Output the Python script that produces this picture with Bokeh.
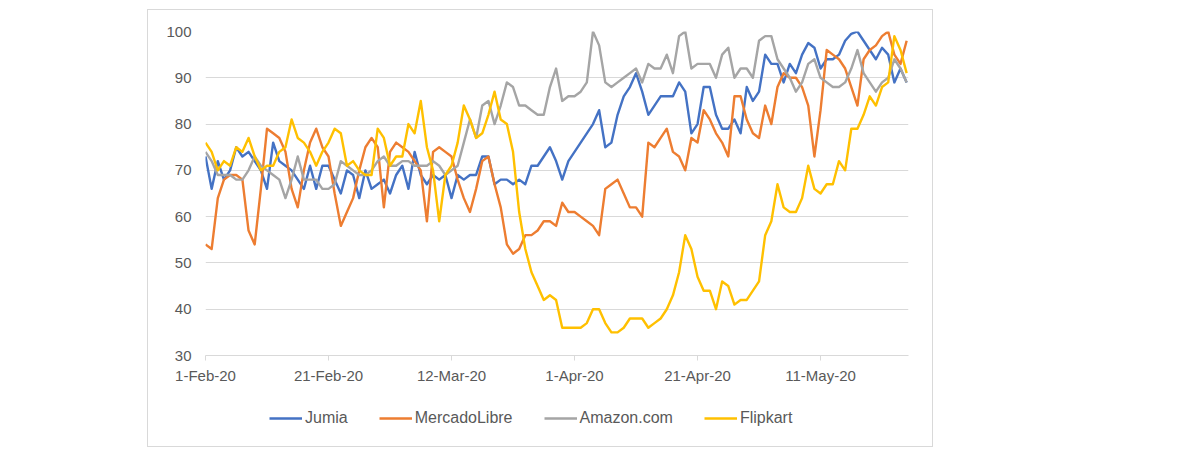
from bokeh.plotting import figure
from bokeh.models import Range1d, FixedTicker, Legend, LegendItem, Spacer
from bokeh.layouts import row, column
from bokeh.embed import file_html
from bokeh.resources import INLINE

tick_days = [0, 20, 40, 60, 80, 100]
tick_labels = ["1-Feb-20", "21-Feb-20", "12-Mar-20", "1-Apr-20", "21-Apr-20", "11-May-20"]

jumia = [73, 66, 72, 68, 70, 75, 73, 74, 72, 70, 66, 76, 72, 71, 70, 68, 66, 71, 66, 71,
         71, 68, 65, 70, 69, 64, 70, 66, 67, 68, 65, 69, 71, 66, 74, 69, 67, 69, 68, 69,
         64, 69, 68, 69, 69, 73, 73, 67, 68, 68, 67, 68, 67, 71, 71, 73, 75, 72, 68, 72,
         74, 76, 78, 80, 83, 75, 76, 82, 86, 88, 91, 87, 82, 84, 86, 86, 86, 89, 87, 78,
         80, 88, 88, 82, 79, 79, 81, 78, 88, 85, 87, 95, 93, 93, 89, 93, 91, 95, 97.5, 96.5,
         92, 94, 94, 95, 98, 99.5, 100, 98, 96, 94, 96.5, 95, 89, 92, 89]

mercadolibre = [54, 53, 64, 68, 69, 69, 68, 57, 54, 66, 79, 78, 77, 74, 66, 62, 70, 76, 79, 75,
                73, 65, 58, 61, 64, 70, 75, 77, 75, 62, 74, 76, 75, 74, 72, 70, 59, 74, 75, 74,
                73, 68, 64, 61, 66, 72, 73, 67, 62, 54, 52, 53, 56, 56, 57, 59, 59, 58, 63, 61,
                61, 60, 59, 58, 56, 66, 67, 68, 65, 62, 62, 60, 76, 75, 77, 79, 74, 73, 70, 77,
                76, 83, 81, 78, 76, 73, 86, 86, 81, 78, 77, 84, 80, 88, 91, 90, 90, 88, 84, 73,
                83, 96, 95, 94, 92, 88, 84, 94, 96, 97, 99, 100, 95, 93, 98]

amazon = [74, 72, 69, 69, 69, 68, 68, 70, 73, 71, 70, 69, 68, 64, 68, 73, 68, 68, 68, 66,
          66, 67, 72, 71, 70, 69, 69, 70, 72, 73, 71, 71, 72, 72, 71, 71, 71, 72, 71, 69,
          70, 71, 76, 81, 77, 84, 85, 80, 84, 89, 88, 84, 84, 83, 82, 82, 88, 92, 85, 86,
          86, 87, 89, 100, 97, 89, 88, 89, 90, 91, 92, 89, 93, 92, 92, 95, 91, 99, 100, 92,
          93, 93, 93, 90, 95, 96.5, 90, 92, 92, 90, 98, 99, 99, 94, 92, 90, 87, 89, 93, 94,
          90, 89, 88, 88, 89, 92, 96, 91, 89, 87, 89, 90, 94, 92, 89]

flipkart = [76, 74, 70, 72, 71, 75, 74, 77, 73, 70, 71, 71, 74, 75, 81, 77, 76, 74, 71, 74,
            76, 79, 78, 71, 72, 70, 69, 69, 79, 77, 71, 73, 73, 80, 78, 85, 75, 70, 59, 69,
            71, 76, 84, 81, 77, 78, 82, 87, 81, 80, 74, 61, 53, 48, 45, 42, 43, 42, 36, 36,
            36, 36, 37, 40, 40, 37, 35, 35, 36, 38, 38, 38, 36, 37, 38, 40, 43, 48, 56, 53,
            47, 44, 44, 40, 46, 45, 41, 42, 42, 44, 46, 56, 59, 67, 62, 61, 61, 64, 71, 66,
            65, 67, 67, 72, 70, 79, 79, 82, 86, 84, 88, 89, 99, 96, 91]

series_names = ["Jumia", "MercadoLibre", "Amazon.com", "Flipkart"]
series_values = [jumia, mercadolibre, amazon, flipkart]
series_colors = ["#4472C4", "#ED7D31", "#A5A5A5", "#FFC000"]

days = list(range(len(jumia)))

FONT = "Liberation Sans"
TXT = "#595959"

p = figure(width=784, height=385, output_backend="svg", toolbar_location=None,
           x_range=Range1d(0, 114.3), y_range=Range1d(30, 100),
           min_border_left=57, min_border_right=24, min_border_top=21, min_border_bottom=40)
p.outline_line_color = None
p.background_fill_color = "white"
p.border_fill_color = "white"

p.xgrid.grid_line_color = None
p.ygrid.grid_line_color = "#d9d9d9"
p.ygrid.grid_line_width = 1

p.yaxis.ticker = FixedTicker(ticks=[30, 40, 50, 60, 70, 80, 90, 100])
p.yaxis.axis_line_color = None
p.yaxis.major_tick_line_color = None
p.yaxis.minor_tick_line_color = None
p.yaxis.major_tick_out = 0
p.yaxis.major_label_standoff = 14
p.yaxis.major_label_text_font = FONT
p.yaxis.major_label_text_font_size = "15px"
p.yaxis.major_label_text_color = TXT

p.xaxis.ticker = FixedTicker(ticks=tick_days)
p.xaxis.major_label_overrides = {d: lab for d, lab in zip(tick_days, tick_labels)}
p.xaxis.axis_line_color = "#d9d9d9"
p.xaxis.major_tick_line_color = "#d9d9d9"
p.xaxis.major_tick_out = 5
p.xaxis.major_tick_in = 0
p.xaxis.minor_tick_line_color = None
p.xaxis.major_label_standoff = 6
p.xaxis.major_label_text_font = FONT
p.xaxis.major_label_text_font_size = "15px"
p.xaxis.major_label_text_color = TXT

for name, vals, col in zip(series_names, series_values, series_colors):
    p.line(days, vals, line_color=col, line_width=2.4, line_join="round")

# legend panel: a separate strip below the chart; the same series are drawn
# there outside its (0..1) view, so only their legend entries show
lf = figure(width=784, height=51, output_backend="svg", toolbar_location=None,
            x_range=Range1d(0, 1), y_range=Range1d(0, 1),
            x_axis_location=None, y_axis_location=None,
            min_border_left=0, min_border_right=0, min_border_top=0, min_border_bottom=0)
lf.grid.visible = False
lf.outline_line_color = None
lf.border_fill_color = "white"
items = []
for name, vals, col in zip(series_names, series_values, series_colors):
    r = lf.line(days, vals, line_color=col, line_width=2.4)
    items.append(LegendItem(label=name, renderers=[r]))
legend = Legend(items=items, orientation="horizontal", location=(64, 18),
                label_text_font=FONT, label_text_font_size="16px", label_text_color=TXT,
                glyph_width=33, label_standoff=3, spacing=31, padding=0, margin=0,
                border_line_color=None, background_fill_alpha=0)
lf.add_layout(legend, "center")

chart = column(p, lf, spacing=0, styles={"border": "1px solid #d9d9d9"})
layout = column(Spacer(height=9), row(Spacer(width=147), chart))

open("out.html", "w").write(file_html(layout, INLINE))
